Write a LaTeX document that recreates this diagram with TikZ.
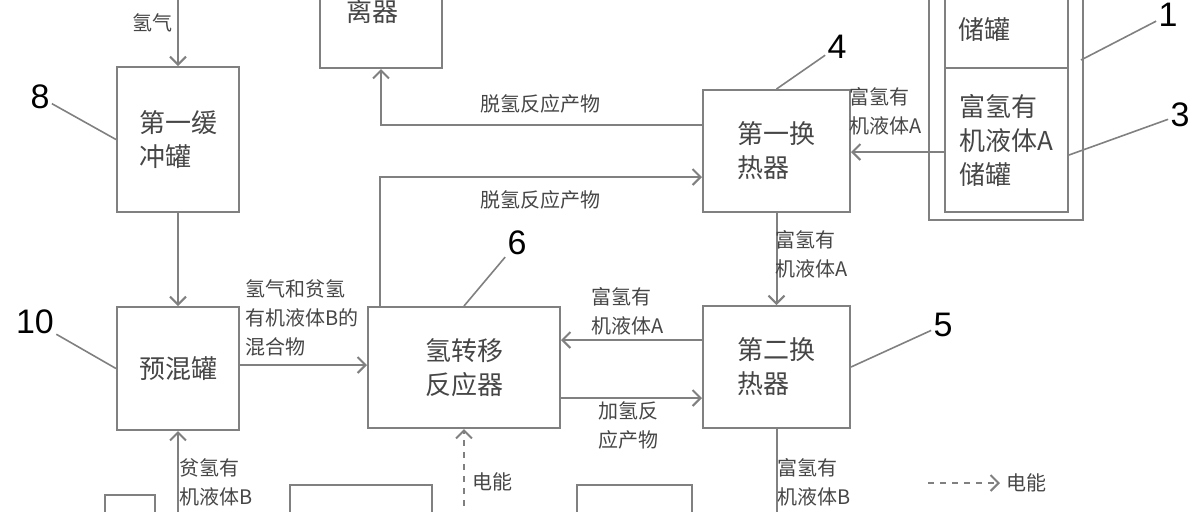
\documentclass[tikz,border=0pt]{standalone}
\usepackage{fontspec}
\setmainfont{Noto Sans CJK SC}
\newfontfamily\numfam{Liberation Sans}
\usetikzlibrary{arrows.meta}
\definecolor{linegray}{RGB}{128,128,128}
\definecolor{textgray}{RGB}{70,70,70}
\tikzset{
	box/.style={draw=linegray, line width=1pt, align=left, text=textgray, inner sep=0pt, font=\fontsize{13}{17}\selectfont},
	flow/.style={draw=linegray, line width=1pt, -{Straight Barb[length=4pt,width=8pt]}},
	power/.style={flow, dashed},
	lbl/.style={text=textgray, align=left, inner sep=0pt, font=\fontsize{10}{14.5}\selectfont},
	num/.style={inner sep=1pt, font=\numfam\fontsize{17}{17}\selectfont},
	leader/.style={draw=linegray, line width=0.8pt}
}
\begin{document}
\begin{tikzpicture}[x=0.5pt, y=-0.5pt]
			\useasboundingbox (0,0) rectangle (1200,511);
			% Boxes
			\node[box, minimum width=61pt, minimum height=72.5pt] (box8) at (178,139.5) {第一缓\\冲罐};
			\node[box, minimum width=61pt, minimum height=74pt] (sep) at (381,-6) {};
			\node[lbl, font=\fontsize{13}{17}\selectfont] (septxt) at (372,12) {离器};
			\node[box, minimum width=73.5pt, minimum height=61pt] (box4) at (776.5,151) {第一换\\热器};
			\node[box, minimum width=73.5pt, minimum height=61pt] (box5) at (776.5,367) {第二换\\热器};
			\node[box, minimum width=96pt, minimum height=60.5pt] (box6) at (464,367.5) {氢转移\\反应器};
			\node[box, minimum width=61pt, minimum height=61.5pt] (box10) at (178,368.5) {预混罐};
			% Tank
			\draw[linegray, line width=1pt] (929,-20) rectangle (1083,220);
			\node[box, minimum width=61.5pt, minimum height=74pt] (tankB) at (1006.5,-6) {};
			\node[box, minimum width=61.5pt, minimum height=72pt] (tankA) at (1006.5,140) {富氢有\\机液体A\\储罐};
			\node[lbl, anchor=west, font=\fontsize{13}{17}\selectfont] (tanktxt) at (958,30) {储罐};
			% Boxes cut by the lower edge
			\draw[linegray, line width=1pt] (105,495) rectangle (155,560);
			\draw[linegray, line width=1pt] (290,485) rectangle (432,560);
			\draw[linegray, line width=1pt] (577,485) rectangle (692,560);
			% Flows
			\coordinate (h2in) at (178,-10);
			\coordinate (bin) at (178,530);
			\coordinate (bout) at (776.5,530);
			\coordinate (ein) at (464,530);
			\draw[flow] (h2in) -- (box8.north);
			\node[lbl] (l1) at (152,23) {氢气};
			\draw[flow] (box8.south) -- (box10.north);
			\draw[flow] (box4.west |- 0,125) -| (sep.south);
			\node[lbl] (l2) at (540,104) {脱氢反应产物};
			\draw[flow] (box6.north -| 380,0) |- (box4.west |- 0,177);
			\node[lbl] (l3) at (540,200) {脱氢反应产物};
			\draw[flow] (tankA.west |- 0,152) -- (box4.east |- 0,152);
			\node[lbl] (l4) at (886,111) {富氢有\\机液体A};
			\draw[flow] (box4.south) -- (box5.north);
			\node[lbl] (l5) at (812,254) {富氢有\\机液体A};
			\draw[flow] (box5.west |- 0,340) -- (box6.east |- 0,340);
			\node[lbl] (l6) at (628,311) {富氢有\\机液体A};
			\draw[flow] (box6.east |- 0,398) -- (box5.west |- 0,398);
			\node[lbl] (l7) at (628,425) {加氢反\\应产物};
			\draw[linegray, line width=1pt] (box5.south) -- (bout);
			\node[lbl] (l8) at (814,482) {富氢有\\机液体B};
			\draw[flow] (box10.east |- 0,365) -- (box6.west |- 0,365);
			\node[lbl] (l9) at (302,318) {氢气和贫氢\\有机液体B的\\混合物};
			\draw[flow] (bin) -- (box10.south);
			\node[lbl] (l10) at (216,482) {贫氢有\\机液体B};
			\draw[power] (ein) -- (box6.south);
			\node[lbl] (l11) at (492,482) {电能};
			% Legend
			\coordinate (lg1) at (928,483);
			\coordinate (lg2) at (1000,483);
			\draw[power] (lg1) -- (lg2);
			\node[lbl, anchor=west] (lgtxt) at (1006,483) {电能};
			% Reference numbers
			\node[num] (n1) at (1168,15) {1};
			\node[num] (n3) at (1180,115) {3};
			\node[num] (n4) at (837,47) {4};
			\node[num] (n5) at (943,325) {5};
			\node[num] (n6) at (517,243) {6};
			\node[num] (n8) at (40,97) {8};
			\node[num] (n10) at (35,322) {10};
			\draw[leader] (1081,60) -- (n1);
			\draw[leader] (tankA.east |- 0,155) -- (n3);
			\draw[leader] (box4.north) -- (n4);
			\draw[leader] (box5.east) -- (n5);
			\draw[leader] (box6.north) -- (n6);
			\draw[leader] (box8.west) -- (n8);
			\draw[leader] (box10.west) -- (n10);
		\end{tikzpicture}
\end{document}
